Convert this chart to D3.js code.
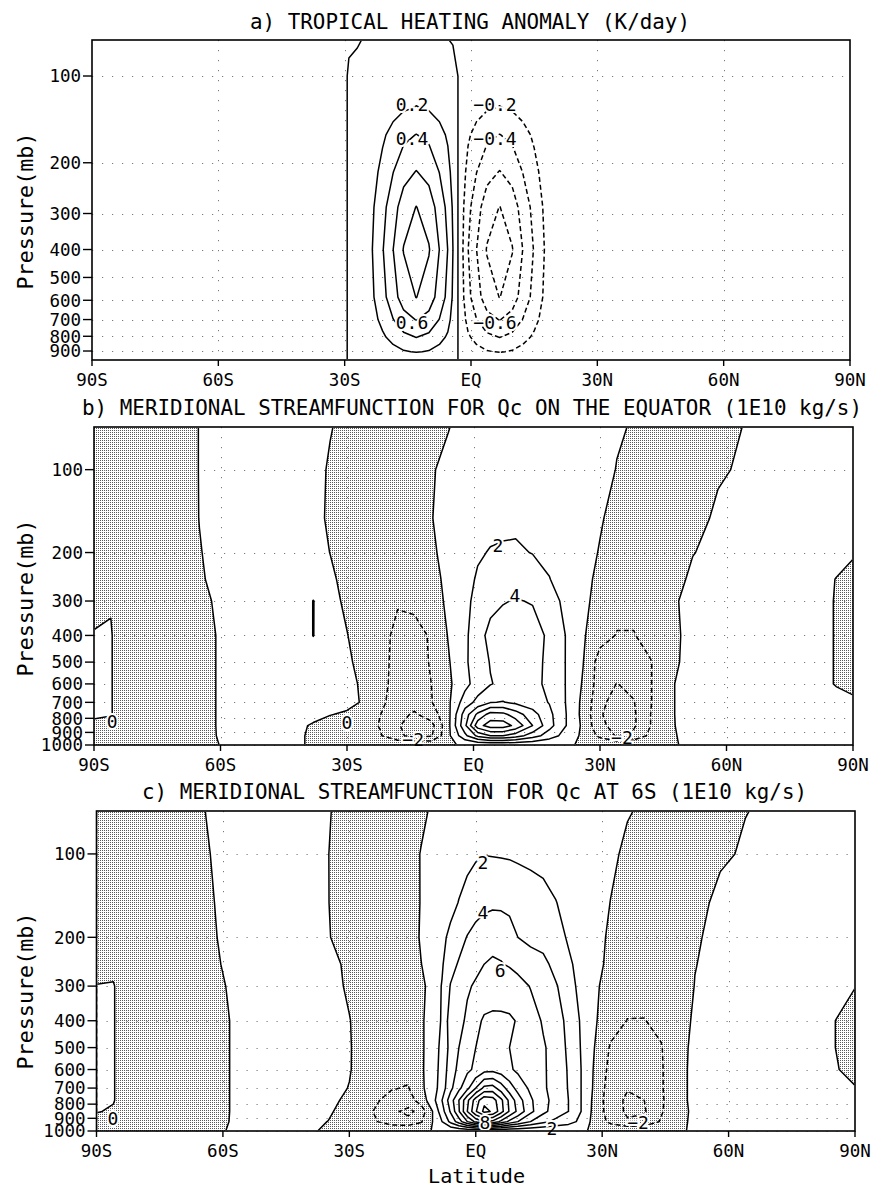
<!DOCTYPE html>
<html>
<head>
<meta charset="utf-8">
<script src="https://cdn.jsdelivr.net/npm/d3@7"></script>
<style>
  body { margin: 0; background: #fff; }
  svg { display: block; }
  text { font-family: "DejaVu Sans Mono", "Liberation Mono", monospace; fill: #000; }
</style>
</head>
<body>
<svg id="chart" width="873" height="1188"></svg>
<script>
// ---- data ----
const latTicks = [-90, -60, -30, 0, 30, 60, 90]
const latTickLabels = ['90S', '60S', '30S', 'EQ', '30N', '60N', '90N']
const presTicksA = [100, 200, 300, 400, 500, 600, 700, 800, 900]
const presTicksBC = [100, 200, 300, 400, 500, 600, 700, 800, 900, 1000]

// a) heating anomaly (K/day)
const latA = [-90, -29.8, -29, -27, -24, -21, -18.5, -16, -13, -10, -7.5, -5.5, -4.3, -3.1, -1.9, -0.7, 1.3, 3.8, 6.8, 9.8, 12.3, 15, 18, 22, 90]
const presA = [75, 100, 130, 160, 215, 285, 400, 585, 700, 805, 905, 967]
const heatA = [
  [-0.01,-0.01,-0.01,-0.002,0.004,0.008,0.012,0.015,0.016,0.014,0.01,0.001,-0.003,-0.006,-0.01,-0.01,-0.012,-0.014,-0.016,-0.014,-0.012,-0.01,-0.01,-0.01,-0.01],
  [-0.01,-0.01,0.01,0.007,0.014,0.035,0.054,0.072,0.083,0.073,0.054,0.036,0.018,0,-0.018,-0.036,-0.054,-0.073,-0.083,-0.072,-0.054,-0.035,-0.014,-0.01,-0.01],
  [-0.01,-0.01,0.01,0.017,0.036,0.089,0.138,0.184,0.212,0.187,0.138,0.091,0.047,0,-0.047,-0.091,-0.138,-0.187,-0.212,-0.184,-0.138,-0.089,-0.036,-0.013,-0.01],
  [-0.01,-0.01,0.01,0.032,0.069,0.17,0.263,0.352,0.405,0.356,0.263,0.174,0.089,0,-0.089,-0.174,-0.263,-0.356,-0.405,-0.352,-0.263,-0.17,-0.069,-0.024,-0.01],
  [-0.01,-0.01,0.01,0.049,0.103,0.255,0.395,0.528,0.607,0.534,0.395,0.261,0.134,0,-0.134,-0.261,-0.395,-0.534,-0.607,-0.528,-0.395,-0.255,-0.103,-0.036,-0.01],
  [-0.01,-0.01,0.01,0.064,0.136,0.336,0.52,0.696,0.805,0.704,0.52,0.344,0.176,0,-0.176,-0.344,-0.52,-0.704,-0.805,-0.696,-0.52,-0.336,-0.136,-0.048,-0.01],
  [-0.01,-0.01,0.01,0.074,0.156,0.386,0.598,0.81,0.92,0.815,0.598,0.396,0.202,0,-0.202,-0.396,-0.598,-0.815,-0.92,-0.81,-0.598,-0.386,-0.156,-0.055,-0.01],
  [-0.01,-0.01,0.01,0.064,0.136,0.336,0.52,0.696,0.805,0.704,0.52,0.344,0.176,0,-0.176,-0.344,-0.52,-0.704,-0.805,-0.696,-0.52,-0.336,-0.136,-0.048,-0.01],
  [-0.01,-0.01,0.01,0.049,0.103,0.255,0.395,0.528,0.607,0.534,0.395,0.261,0.134,0,-0.134,-0.261,-0.395,-0.534,-0.607,-0.528,-0.395,-0.255,-0.103,-0.036,-0.01],
  [-0.01,-0.01,0.01,0.032,0.069,0.17,0.263,0.352,0.405,0.356,0.263,0.174,0.089,0,-0.089,-0.174,-0.263,-0.356,-0.405,-0.352,-0.263,-0.17,-0.069,-0.024,-0.01],
  [-0.01,-0.01,0.01,0.017,0.036,0.089,0.138,0.184,0.212,0.187,0.138,0.091,0.047,0,-0.047,-0.091,-0.138,-0.187,-0.212,-0.184,-0.138,-0.089,-0.036,-0.013,-0.01],
  [-0.01,-0.01,0.01,0.004,0.009,0.023,0.036,0.048,0.055,0.048,0.036,0.024,0.012,0,-0.012,-0.024,-0.036,-0.048,-0.055,-0.048,-0.036,-0.023,-0.01,-0.01,-0.01]
]
const levelsA = [-0.8, -0.6, -0.4, -0.2, 0, 0.2, 0.4, 0.6, 0.8]
const labelsA = [['0.2', -14, 126], ['0.4', -14, 165], ['0.6', -14, 714], ['\u22120.2', 5.7, 126], ['\u22120.4', 5.7, 165], ['\u22120.6', 5.7, 714]]

// b) streamfunction, Qc on the equator (1E10 kg/s)
const latB = [-90, -86, -80, -72, -65, -58, -50, -42, -38, -34, -30, -26, -22, -18, -14, -10, -6, -2, 1, 4, 7, 10, 14, 18, 22, 26, 30, 34, 38, 42, 47, 52, 58, 64, 72, 80, 86, 90]
const presBC = [70, 100, 150, 200, 250, 300, 400, 500, 600, 700, 775, 850, 925, 1000]
const psiB = [
  [-1.0,-1.0,-1.0,-0.8,0.03,0.5,0.6,0.6,0.5,0.1, -0.5,-0.8,-0.9,-0.9,-0.8,-0.5,-0.05,0.4,0.6,0.7, 0.75,0.8,0.8,0.75,0.7,0.6,0.4,0.15,-0.1,-0.4, -0.5,-0.5,-0.4,0.02,0.4,0.5,0.5,0.5],
  [-1.0,-1.0,-1.0,-0.8,0.03,0.5,0.6,0.6,0.6,-0.2, -0.7,-1.0,-1.1,-1.1,-1.0,-0.1,0.3,0.7,0.9,1.0, 1.1,1.2,1.2,1.1,1.0,0.8,0.5,-0.05,-0.5,-0.7, -0.7,-0.6,-0.2,0.2,0.5,0.5,0.5,0.5],
  [-1.0,-1.0,-1.0,-0.8,0.02,0.5,0.6,0.6,0.6,-0.3, -0.9,-1.2,-1.3,-1.3,-1.2,-0.05,0.5,1.0,1.3,1.5, 1.6,1.7,1.6,1.5,1.3,1.0,0.15,-0.5,-0.9,-1.0, -0.9,-0.6,0.3,0.5,0.5,0.5,0.5,0.5],
  [-1.0,-1.0,-1.0,-0.8,-0.05,0.5,0.6,0.6,0.6,-0.02, -0.9,-1.3,-1.5,-1.5,-1.4,-0.2,0.4,1.2,1.8,2.1, 2.2,2.2,1.95,1.6,1.1,0.6,-0.1,-0.6,-1.0,-1.1, -1.0,-0.05,0.4,0.5,0.5,0.5,0.3,0.1],
  [-1.0,-1.0,-1.0,-0.9,-0.15,0.6,0.7,0.6,0.5,0.3, -0.5,-1.2,-1.6,-1.7,-1.6,-0.6,0.45,1.4,2.2,2.7, 3.0,3.1,2.8,2.05,1.2,0.5,-0.4,-1.0,-1.3,-1.2, -0.6,0.3,0.5,0.5,0.5,0.4,-0.02,-0.3],
  [-0.5,-0.05,-1.0,-0.9,-0.35,0.5,0.7,0.6,-0.02,0.5, -0.3,-1.2,-1.7,-1.9,-1.8,-1.0,0.4,1.5,2.6,3.4, 3.9,4.1,3.9,2.8,1.5,0.4,-0.6,-1.4,-1.4,-1.0, -0.2,0.4,0.5,0.5,0.5,0.4,-0.05,-0.3],
  [0.1,0.05,-0.9,-0.9,-0.5,0.4,0.7,0.6,-0.02,0.6, 0.05,-0.8,-1.6,-2.3,-2.3,-1.9,0.1,1.6,3.2,4.6, 4.8,4.9,4.7,3.7,1.9,0.2,-1.2,-2.1,-2.1,-1.3, -0.3,0.4,0.5,0.5,0.5,0.4,-0.05,-0.3],
  [0.3,0.05,-0.9,-0.9,-0.5,0.4,0.7,0.6,0.5,0.6, 0.4,-0.8,-1.6,-2.4,-2.5,-1.9,-0.2,1.7,3.0,4.1, 4.6,4.7,4.6,3.6,1.9,0.05,-2.9,-3.1,-3.0,-2.1, -0.3,0.5,0.5,0.5,0.5,0.4,-0.05,-0.3],
  [0.3,0.05,-0.9,-0.9,-0.5,0.4,0.7,0.6,0.5,0.6, 0.5,-0.3,-1.6,-2.5,-2.7,-2.0,-0.4,1.4,2.9,3.9, 4.4,4.6,4.5,3.6,1.9,-0.2,-3.0,-4.05,-3.5,-2.1, -0.1,0.6,0.5,0.5,0.5,0.4,-0.05,-0.3],
  [0.3,0.05,-0.9,-0.9,-0.5,0.4,0.7,0.6,0.5,0.5, 0.4,-0.15,-1.7,-2.7,-3.2,-2.1,-0.4,3.0,4.6,5.9, 6.1,5.6,4.9,3.9,1.9,-0.5,-3.5,-4.8,-4.1,-2.1, -0.1,0.6,0.5,0.5,0.5,0.4,0.3,0.2],
  [0.2,0.05,-0.9,-0.9,-0.5,0.4,0.6,0.5,0.4,0.05, -0.2,-0.8,-2.0,-3.3,-4.3,-3.0,-0.6,5.0,8.5,10.8, 10.6,9.0,6.8,4.5,2.0,-0.6,-3.8,-5.0,-4.3,-2.0, -0.1,0.6,0.5,0.5,0.5,0.4,0.3,0.3],
  [-0.3,-0.3,-0.9,-0.9,-0.5,0.4,0.5,0.3,-0.15,-0.6, -1.0,-1.5,-2.1,-3.8,-5.0,-4.7,-0.6,5.6,11.2,13.0, 13.0,11.5,8.0,4.7,2.0,-0.4,-3.5,-4.8,-4.3,-2.0, -0.1,0.5,0.5,0.5,0.5,0.4,0.3,0.3],
  [-0.3,-0.3,-0.8,-0.8,-0.4,0.3,0.4,0.2,-0.2,-0.5, -0.9,-1.3,-1.9,-3.6,-4.6,-4.2,-0.5,3.5,6.5,8.0, 8.0,7.0,5.0,3.0,1.2,-0.4,-2.5,-4.2,-3.5,-1.5, -0.1,0.3,0.4,0.4,0.4,0.3,0.3,0.3],
  [-0.2,-0.2,-0.3,-0.3,-0.2,0.1,0.1,0.1,-0.1,-0.2, -0.2,-0.2,-0.3,-0.3,-0.3,-0.3,-0.1,0.1,0.1,0.1, 0.1,0.1,0.1,0.1,0.1,-0.1,-0.2,-0.3,-0.2,-0.1, -0.05,0.1,0.1,0.1,0.1,0.1,0.1,0.1]
]
const levelsB = [-4, -2, 0, 2, 4, 6, 8, 10, 12, 14]
const labelsB = [['2', 5.8, 188], ['4', 9.8, 286], ['0', -85.7, 825], ['0', -30, 832], ['\u22122', -14.3, 959], ['\u22122', 35.2, 943]]

// c) streamfunction, Qc at 6S (1E10 kg/s)
const latC = [-90, -86, -80, -72, -64, -57, -48, -40, -35, -30, -25, -20, -16, -13, -10, -8, -6, -4, -2, 0, 2, 4, 6, 8, 10, 13, 16, 19, 22, 25, 28, 32, 36, 40, 44, 48, 52, 58, 64, 72, 80, 86, 90]
const psiC = [
  [-1.0,-1.0,-1.0,-0.9,0.02,0.6,0.7,0.6,0.1,-0.6, -0.9,-1.0,-0.9,-0.5,0.4,0.5,0.6,0.8,1.0,1.2, 1.3,1.3,1.3,1.2,1.1,1.0,1.0,0.9,0.8,0.7, 0.6,0.4,0.1,-0.2,-0.4,-0.5,-0.5,-0.4,-0.05,0.4, 0.5,0.5,0.5],
  [-1.0,-1.0,-1.0,-0.9,-0.1,0.6,0.7,0.6,0.02,-0.7, -1.0,-1.1,-1.0,0.1,0.8,1.0,1.2,1.4,1.6,1.8, 1.95,1.9,1.85,1.8,1.7,1.55,1.4,1.25,1.05,0.85, 0.65,0.3,-0.3,-0.6,-0.8,-0.8,-0.7,-0.35,0.25,0.5, 0.5,0.5,0.5],
  [-1.0,-1.0,-1.0,-0.9,-0.2,0.5,0.7,0.6,0.03,-0.8, -1.1,-1.3,-1.1,0.1,0.9,1.3,1.6,2.05,2.5,3.0, 3.4,3.6,3.6,3.5,3.2,2.9,2.6,2.05,1.5,1.1, 0.8,-0.03,-0.6,-0.9,-1.0,-1.0,-0.8,0.6,0.5,0.5, 0.5,0.5,0.5],
  [-1.0,-1.0,-1.0,-0.9,-0.3,0.5,0.7,0.6,0.1,-0.8, -1.2,-1.4,-1.1,0.2,1.0,1.7,2.3,3.2,4.1,4.8, 5.3,5.5,5.3,4.8,4.0,3.5,3.1,2.7,1.8,1.3, 0.7,-0.3,-0.9,-1.1,-1.2,-1.1,-0.2,0.5,0.5,0.5, 0.5,0.5,0.5],
  [-0.6,-0.2,-1.0,-0.9,-0.4,0.4,0.7,0.7,0.45,-0.3, -1.2,-1.5,-1.3,-0.05,1.0,1.8,3.3,4.2,5.0,5.6, 6.0,6.2,6.1,5.8,5.3,4.9,4.6,3.3,2.3,1.4, 0.7,-0.5,-1.0,-1.2,-1.2,-1.0,-0.05,0.5,0.5,0.5, 0.5,0.5,0.5],
  [0.05,0.05,-0.9,-0.9,-0.7,0.35,0.7,0.7,0.5,-0.2, -1.2,-1.6,-1.4,-0.6,1.1,2.1,4.1,5.0,5.8,6.2, 6.6,7.0,7.2,7.2,6.8,5.9,5.3,4.2,2.8,1.4, 0.4,-0.8,-1.2,-1.4,-1.4,-1.1,0.05,0.5,0.5,0.5, 0.5,0.3,0.02],
  [0.3,0.05,-0.9,-0.9,-0.8,0.2,0.7,0.7,0.6,0.05, -0.8,-1.4,-1.4,-0.3,1.0,2.2,5.0,5.5,6.3,7.4, 8.3,8.4,8.3,8.2,7.9,6.9,5.8,5.0,3.4,1.8, 0.3,-1.2,-2.05,-2.05,-1.6,-0.9,0.3,0.5,0.5,0.5, 0.4,-0.05,-0.3],
  [0.3,0.05,-0.9,-0.9,-0.8,0.2,0.7,0.7,0.6,0.1, -0.9,-1.5,-1.5,-0.3,1.0,2.6,4.6,6.0,6.9,8.0, 8.6,8.6,8.4,8.0,7.6,7.0,6.2,5.3,3.6,1.9, 0.1,-2.2,-2.8,-2.8,-2.1,-0.6,0.4,0.5,0.5,0.5, 0.4,-0.05,-0.3],
  [0.3,0.05,-0.9,-0.9,-0.8,0.2,0.7,0.7,0.6,0.1, -1.0,-1.6,-1.6,-0.3,1.1,2.8,5.0,6.5,7.6,8.4, 9.3,9.4,9.0,8.3,7.6,7.2,6.2,5.4,3.8,2.0, -0.1,-2.6,-3.3,-3.2,-2.2,-0.5,0.4,0.5,0.5,0.5, 0.4,0.02,-0.3],
  [0.3,0.05,-0.9,-0.9,-0.8,0.2,0.6,0.6,0.5,-0.05, -1.2,-1.9,-2.1,-0.4,1.2,3.0,5.5,7.5,9.5,12.0, 14.5,14.8,13.0,11.0,9.3,7.6,6.3,5.2,3.9,2.0, -0.2,-3.0,-3.9,-3.6,-2.2,-0.5,0.4,0.5,0.5,0.5, 0.4,0.3,0.05],
  [0.3,0.05,-0.9,-0.9,-0.8,0.2,0.5,0.5,0.35,-0.3, -1.6,-2.5,-2.8,-1.2,1.5,4.0,7.0,10.0,13.5,17.0, 19.5,19.0,16.5,13.5,11.0,8.3,6.6,5.3,4.0,2.0, -0.4,-3.2,-4.3,-4.0,-2.3,-0.5,0.4,0.5,0.5,0.5, 0.4,0.3,0.3],
  [0.05,-0.1,-0.9,-0.9,-0.8,0.2,0.4,0.4,0.2,-0.6, -1.8,-3.5,-4.6,-3.2,0.3,3.2,6.2,9.8,14.0,17.8, 20.5,19.8,16.8,13.8,11.5,8.5,6.5,5.1,4.0,2.0, -0.5,-3.0,-4.3,-4.2,-2.2,-0.5,0.3,0.4,0.4,0.4, 0.4,0.3,0.3],
  [-0.3,-0.3,-0.8,-0.8,-0.7,0.2,0.3,0.3,-0.02,-0.5, -1.5,-3.0,-3.2,-2.2,0.2,2.0,4.5,7.0,10.0,12.5, 14.0,13.5,11.5,9.5,8.0,6.0,4.5,3.5,2.8,1.5, -0.6,-2.5,-3.8,-3.5,-1.8,-0.4,0.3,0.3,0.3,0.3, 0.3,0.3,0.3],
  [-0.1,-0.1,-0.2,-0.2,-0.2,0.1,0.1,0.1,-0.1,-0.1, -0.2,-0.2,-0.2,-0.2,0.05,0.1,0.1,0.1,0.1,0.1, 0.1,0.1,0.1,0.1,0.1,0.1,0.1,0.1,0.1,0.1, -0.1,-0.2,-0.2,-0.2,-0.1,-0.05,0.05,0.1,0.1,0.1, 0.1,0.1,0.1]
]
const levelsC = [-4, -2, 0, 2, 4, 6, 8, 10, 12, 14, 16, 18, 20]
const labelsC = [['2', 1.7, 107], ['4', 1.7, 163], ['6', 5.8, 263], ['8', 2.2, 930], ['2', 18.1, 978], ['0', -86.1, 900], ['\u22122', 38.5, 930]]

// ---- drawing ----
const svg = d3.select('#chart')
const defs = svg.append('defs')

const stipple = defs.append('pattern')
  .attr('id', 'stipple')
  .attr('width', 2).attr('height', 2)
  .attr('patternUnits', 'userSpaceOnUse')
stipple.append('rect').attr('width', 1).attr('height', 1).attr('fill', '#5a5a5a')

function drawPanel(o) {
  const x = d3.scaleLinear().domain([-90, 90]).range([o.x0, o.x1])
  const y = d3.scaleLog().domain([o.pTop, o.pBot]).range([o.y0, o.y1])

  const nx = o.lats.length, ny = o.pres.length
  // grid index -> pixel (piecewise linear between grid nodes)
  const ix = d3.scaleLinear().domain(d3.range(nx)).range(o.lats.map(x)).clamp(true)
  const iy = d3.scaleLinear().domain(d3.range(ny)).range(o.pres.map(y)).clamp(true)
  const path = d3.geoPath(d3.geoTransform({
    point(px, py) { this.stream.point(ix(px - 0.5), iy(py - 0.5)) }
  }))
  const flat = o.grid.flat()

  const g = svg.append('g')
  const w = o.x1 - o.x0, h = o.y1 - o.y0

  defs.append('clipPath').attr('id', 'clip' + o.id)
    .append('rect').attr('x', o.x0).attr('y', o.y0).attr('width', w).attr('height', h)
  defs.append('clipPath').attr('id', 'clipin' + o.id)
    .append('rect').attr('x', o.x0 + 1).attr('y', o.y0 + 1).attr('width', w - 2).attr('height', h - 2)

  // shading where the field is negative
  if (o.shade) {
    const neg = d3.contours().size([nx, ny]).thresholds([0])(flat.map(v => -v))
    g.append('g').attr('clip-path', `url(#clip${o.id})`)
      .selectAll('path').data(neg).join('path')
      .attr('d', path)
      .attr('fill', 'url(#stipple)')
      .attr('stroke', 'none')
  }

  // dotted grid
  const grid = g.append('g').attr('stroke', '#7a7a7a').attr('stroke-width', 1).attr('stroke-dasharray', '1.2,8.8')
  grid.selectAll('line.h').data(o.yTicks).join('line')
    .attr('x1', o.x0).attr('x2', o.x1)
    .attr('y1', d => Math.round(y(d)) + 0.5).attr('y2', d => Math.round(y(d)) + 0.5)
  grid.selectAll('line.v').data(latTicks.slice(1, -1)).join('line')
    .attr('x1', d => Math.round(x(d)) + 0.5).attr('x2', d => Math.round(x(d)) + 0.5)
    .attr('y1', o.y0).attr('y2', o.y1)

  // contour lines
  const cs = d3.contours().size([nx, ny]).thresholds(o.levels)(flat)
  g.append('g').attr('clip-path', `url(#clipin${o.id})`)
    .selectAll('path').data(cs).join('path')
    .attr('d', path)
    .attr('fill', 'none')
    .attr('stroke', '#000')
    .attr('stroke-width', 1.5)
    .attr('stroke-linejoin', 'round')
    .attr('stroke-dasharray', d => d.value < 0 ? '5,3' : null)

  // contour labels
  g.append('g').selectAll('text').data(o.labels).join('text')
    .attr('x', d => x(d[1])).attr('y', d => y(d[2]))
    .attr('dy', '0.36em')
    .attr('text-anchor', 'middle')
    .attr('font-size', 18)
    .attr('stroke', '#fff').attr('stroke-width', 4).attr('paint-order', 'stroke')
    .text(d => d[0])

  // frame
  g.append('rect')
    .attr('x', o.x0).attr('y', o.y0).attr('width', w).attr('height', h)
    .attr('fill', 'none').attr('stroke', '#000').attr('stroke-width', 1.6)

  // ticks
  const ax = g.append('g').attr('stroke', '#000').attr('stroke-width', 1.4)
  ax.selectAll('line.yt').data(o.yTicks).join('line')
    .attr('x1', o.x0 - 9).attr('x2', o.x0)
    .attr('y1', d => y(d)).attr('y2', d => y(d))
  ax.selectAll('line.xt').data(latTicks).join('line')
    .attr('x1', d => x(d)).attr('x2', d => x(d))
    .attr('y1', o.y1).attr('y2', o.y1 + 6)

  g.append('g').selectAll('text').data(o.yTicks).join('text')
    .attr('x', o.x0 - 11).attr('y', d => y(d)).attr('dy', '0.36em')
    .attr('text-anchor', 'end').attr('font-size', 17.5)
    .text(d => d)
  g.append('g').selectAll('text').data(latTicks).join('text')
    .attr('x', d => x(d)).attr('y', o.y1 + 26)
    .attr('text-anchor', 'middle').attr('font-size', 17.5)
    .text((d, i) => latTickLabels[i])

  // axis title and panel title
  g.append('text')
    .attr('transform', `translate(33,${o.yLabelC}) rotate(-90)`)
    .attr('text-anchor', 'middle').attr('font-size', 21.5)
    .attr('textLength', 157).attr('lengthAdjust', 'spacingAndGlyphs')
    .text('Pressure(mb)')
  g.append('text')
    .attr('x', o.titleX).attr('y', o.titleY)
    .attr('font-size', 20.8)
    .attr('textLength', o.titleW).attr('lengthAdjust', 'spacingAndGlyphs')
    .text(o.title)
}

drawPanel({
  id: 'a', lats: latA, pres: presA, grid: heatA, levels: levelsA, labels: labelsA, shade: false,
  x0: 92, x1: 850, y0: 40, y1: 360, pTop: 75, pBot: 967, yTicks: presTicksA,
  yLabelC: 211, title: 'a) TROPICAL HEATING ANOMALY (K/day)', titleX: 250, titleY: 29, titleW: 440
})
drawPanel({
  id: 'b', lats: latB, pres: presBC, grid: psiB, levels: levelsB, labels: labelsB, shade: true,
  x0: 94, x1: 853, y0: 427, y1: 745, pTop: 70, pBot: 1000, yTicks: presTicksBC,
  yLabelC: 598, title: 'b) MERIDIONAL STREAMFUNCTION FOR Qc ON THE EQUATOR (1E10 kg/s)', titleX: 82, titleY: 415, titleW: 780
})
drawPanel({
  id: 'c', lats: latC, pres: presBC, grid: psiC, levels: levelsC, labels: labelsC, shade: true,
  x0: 96.5, x1: 855, y0: 811, y1: 1131, pTop: 70, pBot: 1000, yTicks: presTicksBC,
  yLabelC: 991, title: 'c) MERIDIONAL STREAMFUNCTION FOR Qc AT 6S (1E10 kg/s)', titleX: 142, titleY: 799, titleW: 665
})

svg.append('text')
  .attr('x', 476.5).attr('y', 1183)
  .attr('text-anchor', 'middle').attr('font-size', 20)
  .attr('textLength', 97).attr('lengthAdjust', 'spacingAndGlyphs')
  .text('Latitude')
</script>
</body>
</html>
